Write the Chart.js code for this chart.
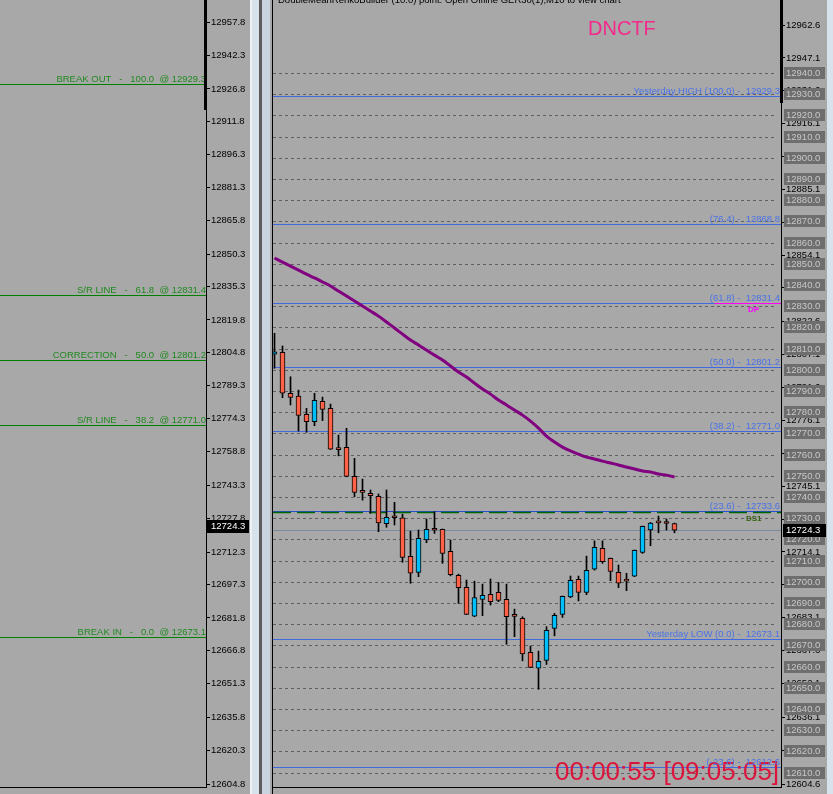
<!doctype html>
<html>
<head>
<meta charset="utf-8">
<title>GER30 M10 - DNCTF</title>
<script src="https://cdn.jsdelivr.net/npm/chart.js@4"></script>
<style>
  body { margin: 0; width: 833px; height: 794px; overflow: hidden; position: relative; background: #a8a8a8; }
  .strip { position: absolute; top: 0; height: 794px; }
  canvas { position: absolute; top: 0; }
</style>
</head>
<body>
<canvas id="leftChart" width="250" height="794" style="left:0"></canvas>
<div class="strip" style="left:250px;width:2px;background:#eef2f6"></div>
<div class="strip" style="left:252px;width:7px;background:#d8e2ec"></div>
<div class="strip" style="left:259px;width:3px;background:#5c5c5c"></div>
<div class="strip" style="left:262px;width:8px;background:#c8d3df"></div>
<div class="strip" style="left:272px;width:1px;background:#000"></div>
<canvas id="rightChart" width="554" height="794" style="left:273px"></canvas>
<div class="strip" style="left:827px;width:6px;background:#d8e2ec"></div>

<script>
// ---- candles (M10 renko-built bars), index 0 = leftmost, partly hidden bar
const opens  = [12807.3, 12808.2, 12788.9, 12787.6, 12779.0, 12775.5, 12785.1, 12781.8, 12762.5, 12763.4,
                12749.7, 12742.3, 12741.7, 12740.3, 12727.4, 12730.3, 12730.1, 12712.0, 12704.4, 12719.7,
                12725.2, 12724.7, 12714.3, 12703.0, 12697.4, 12683.8, 12691.7, 12694.1, 12695.0, 12691.7,
                12683.8, 12682.7, 12666.7, 12659.2, 12662.9, 12678.0, 12684.6, 12692.9, 12701.1, 12695.0,
                12705.9, 12715.8, 12711.0, 12704.4, 12700.4, 12702.7, 12713.9, 12724.5, 12727.9, 12727.6,
                12727.5];
const highs  = [12817.2, 12811.2, 12796.7, 12790.4, 12781.8, 12788.9, 12787.1, 12783.8, 12769.2, 12772.4,
                12758.2, 12748.4, 12743.3, 12741.4, 12743.3, 12737.5, 12731.9, 12723.9, 12724.4, 12729.6,
                12733.0, 12724.9, 12719.7, 12703.6, 12700.8, 12700.3, 12698.9, 12701.3, 12699.7, 12698.9,
                12687.1, 12683.5, 12669.7, 12667.3, 12678.8, 12685.1, 12693.3, 12702.7, 12702.7, 12712.1,
                12719.3, 12719.3, 12711.2, 12707.9, 12704.0, 12715.0, 12726.3, 12728.0, 12731.0, 12729.6,
                12727.7];
const lows   = [12800.7, 12786.8, 12783.4, 12771.1, 12770.5, 12773.6, 12776.0, 12762.4, 12759.4, 12749.5,
                12740.1, 12738.5, 12732.3, 12723.6, 12725.7, 12726.8, 12709.2, 12699.3, 12702.4, 12718.4,
                12722.8, 12708.7, 12702.8, 12689.8, 12684.5, 12683.5, 12684.0, 12689.0, 12690.6, 12670.5,
                12674.1, 12662.7, 12659.5, 12649.3, 12661.0, 12674.5, 12683.2, 12692.5, 12691.0, 12693.9,
                12705.5, 12708.7, 12700.5, 12697.2, 12695.8, 12702.4, 12713.4, 12717.0, 12723.1, 12724.4,
                12723.1];
const closes = [12808.5, 12788.9, 12787.0, 12778.5, 12775.5, 12785.6, 12781.3, 12762.6, 12762.3, 12749.7,
                12742.2, 12742.2, 12740.6, 12727.8, 12730.4, 12730.2, 12711.5, 12704.0, 12720.5, 12724.7,
                12724.3, 12713.4, 12703.3, 12697.2, 12684.6, 12692.6, 12693.6, 12690.6, 12691.2, 12683.5,
                12683.7, 12666.0, 12659.6, 12662.5, 12677.1, 12684.2, 12693.1, 12700.7, 12695.0, 12705.4,
                12716.2, 12709.5, 12704.9, 12699.3, 12700.3, 12714.8, 12726.1, 12727.7, 12727.8, 12727.5,
                12724.3];
// moving average (purple)
const maValues = [12852.7, 12850.8, 12848.9, 12847.0, 12845.1, 12843.3, 12841.4, 12839.5, 12837.1, 12834.8,
                  12832.4, 12830.1, 12827.7, 12825.3, 12822.5, 12819.7, 12816.8, 12814.0, 12811.7, 12809.3,
                  12806.9, 12804.6, 12801.8, 12798.9, 12796.6, 12793.7, 12790.9, 12788.5, 12785.7, 12783.4,
                  12781.0, 12778.6, 12775.8, 12772.5, 12768.7, 12765.9, 12763.5, 12761.7, 12760.2, 12758.8,
                  12757.9, 12756.9, 12756.0, 12755.1, 12754.1, 12753.2, 12752.2, 12751.8, 12750.8, 12750.3,
                  12749.4];

// ---- price scale labels
const rightTicks = [12962.6, 12947.1, 12931.6, 12916.1, 12900.6, 12885.1, 12869.6, 12854.1, 12838.6, 12822.6,
                    12807.1, 12791.6, 12776.1, 12760.6, 12745.1, 12729.6, 12714.1, 12698.6, 12683.1, 12667.6,
                    12652.1, 12636.1, 12620.6, 12604.6];
const leftTicks  = [12957.8, 12942.3, 12926.8, 12911.8, 12896.3, 12881.3, 12865.8, 12850.3, 12835.3, 12819.8,
                    12804.8, 12789.3, 12774.3, 12758.8, 12743.3, 12727.8, 12712.3, 12697.3, 12681.8, 12666.8,
                    12651.3, 12635.8, 12620.3, 12604.8];
const roundLevels = [12940, 12930, 12920, 12910, 12900, 12890, 12880, 12870, 12860, 12850, 12840, 12830,
                     12820, 12810, 12800, 12790, 12780, 12770, 12760, 12750, 12740, 12730, 12720, 12710,
                     12700, 12690, 12680, 12670, 12660, 12650, 12640, 12630, 12620, 12610];

// ---- levels
const fibLevels = [12929.3, 12868.8, 12831.4, 12801.2, 12771.0, 12733.6, 12673.1, 12612.6];
const fibLabels = ['Yesterday HIGH (100.0) -  12929.3', '(76.4) -  12868.8', '(61.8) -  12831.4',
                   '(50.0) -  12801.2', '(38.2) -  12771.0', '(23.6) -  12733.6',
                   'Yesterday LOW (0.0) -  12673.1', '(-23.6) -  12612.6'];
const breakLevels = [12929.3, 12831.4, 12801.2, 12771.0, 12673.1];
const breakLabels = ['BREAK OUT   -   100.0  @ 12929.3', 'S/R LINE   -   61.8  @ 12831.4',
                     'CORRECTION   -   50.0  @ 12801.2', 'S/R LINE   -   38.2  @ 12771.0',
                     'BREAK IN   -   0.0  @ 12673.1'];
const lastPrice = 12724.3;
const pivotDP = 12831.4, pivotFrom = 55;
const supportDS1 = 12733.6;

const FONT = '"Liberation Sans", Arial, sans-serif';

function crisp(v) { return Math.round(v) + 0.5; }

const rightDecor = {
  id: 'rightDecor',
  beforeDatasetsDraw(chart) {
    const { ctx, chartArea: a, scales: { x, y } } = chart;
    ctx.save();
    ctx.lineWidth = 1;
    // dotted price grid
    ctx.strokeStyle = '#606060';
    ctx.setLineDash([3, 3]);
    roundLevels.forEach(v => {
      const py = crisp(y.getPixelForValue(v));
      ctx.beginPath(); ctx.moveTo(a.left, py); ctx.lineTo(a.right - 4, py); ctx.stroke();
    });
    ctx.setLineDash([]);
    // fibo lines
    fibLevels.forEach((v, i) => {
      const py = crisp(y.getPixelForValue(v));
      ctx.strokeStyle = i === 5 ? '#2a4fd6' : '#4169e1';
      ctx.beginPath(); ctx.moveTo(a.left, py); ctx.lineTo(a.right, py); ctx.stroke();
    });
    // DS1
    let py = crisp(y.getPixelForValue(supportDS1)) + 1;
    ctx.strokeStyle = '#006400'; ctx.lineWidth = 1.5; ctx.setLineDash([18, 6]);
    ctx.beginPath(); ctx.moveTo(a.left, py); ctx.lineTo(a.right, py); ctx.stroke();
    ctx.setLineDash([]); ctx.lineWidth = 1;
    // DP
    py = crisp(y.getPixelForValue(pivotDP));
    ctx.strokeStyle = '#ff00ff';
    ctx.beginPath(); ctx.moveTo(x.getPixelForValue(pivotFrom), py); ctx.lineTo(a.right, py); ctx.stroke();
    // bid line
    py = crisp(y.getPixelForValue(lastPrice));
    ctx.strokeStyle = '#7b8b9e';
    ctx.beginPath(); ctx.moveTo(a.left, py); ctx.lineTo(a.right, py); ctx.stroke();
    ctx.restore();
  },
  afterDatasetsDraw(chart) {
    const { ctx, chartArea: a, scales: { y } } = chart;
    ctx.save();
    // timer first, so the lowest fibo label stays readable above it
    ctx.fillStyle = '#dc143c';
    ctx.font = '26px ' + FONT;
    ctx.fillText('00:00:55 [09:05:05]', 282, 780);
    ctx.font = '9.5px ' + FONT;
    ctx.fillStyle = '#4a72e8';
    ctx.textAlign = 'right';
    fibLevels.forEach((v, i) => {
      ctx.fillText(fibLabels[i], a.right - 1, Math.round(y.getPixelForValue(v)) - 2);
    });
    ctx.font = 'bold 8px ' + FONT;
    ctx.textAlign = 'left';
    ctx.fillStyle = '#ff00ff';
    ctx.fillText('DP', 475, Math.round(y.getPixelForValue(pivotDP)) + 9);
    ctx.fillStyle = '#355f0e';
    ctx.fillText('DS1', 473, Math.round(y.getPixelForValue(supportDS1)) + 10);
    // header and symbol
    ctx.fillStyle = '#000';
    ctx.font = '9.5px ' + FONT;
    ctx.fillText('DoubleMeanRenkoBuilder (10.0) point. Open Offline GER30(1),M10 to view chart', 5, 3);
    ctx.fillStyle = '#f5288c';
    ctx.font = '20px ' + FONT;
    ctx.fillText('DNCTF', 315, 35);
    ctx.restore();
  },
  afterDraw(chart) {
    const { ctx, chartArea: a, scales: { y } } = chart;
    ctx.save();
    ctx.font = '9.5px ' + FONT;
    ctx.textBaseline = 'middle';
    roundLevels.forEach(v => {
      const py = Math.round(y.getPixelForValue(v));
      ctx.fillStyle = '#6e6e6e';
      ctx.fillRect(a.right + 3, py - 6, 41, 12);
      ctx.fillStyle = '#c8c8c8';
      ctx.fillText(v.toFixed(1), a.right + 5, py + 0.5);
    });
    const pp = Math.round(y.getPixelForValue(lastPrice));
    ctx.fillStyle = '#000';
    ctx.fillRect(a.right + 2, pp - 6, 43, 13);
    ctx.fillStyle = '#fff';
    ctx.fillText(lastPrice.toFixed(1), a.right + 5, pp + 0.5);
    ctx.fillStyle = '#000';
    ctx.fillRect(a.right - 1, 0, 3, 103);
    ctx.fillRect(0, a.bottom, a.right, 1);
    ctx.restore();
  }
};

const leftDecor = {
  id: 'leftDecor',
  afterDatasetsDraw(chart) {
    const { ctx, chartArea: a, scales: { y } } = chart;
    ctx.save();
    ctx.font = '9.5px ' + FONT;
    ctx.textAlign = 'right';
    breakLevels.forEach((v, i) => {
      const py = crisp(y.getPixelForValue(v));
      ctx.strokeStyle = '#008000';
      ctx.beginPath(); ctx.moveTo(a.left, py); ctx.lineTo(a.right, py); ctx.stroke();
      ctx.fillStyle = '#1f8a1f';
      ctx.fillText(breakLabels[i], a.right, py - 2.5);
    });
    ctx.restore();
  },
  afterDraw(chart) {
    const { ctx, chartArea: a, scales: { y } } = chart;
    ctx.save();
    ctx.font = '9.5px ' + FONT;
    ctx.textBaseline = 'middle';
    const pp = Math.round(y.getPixelForValue(lastPrice));
    ctx.fillStyle = '#000';
    ctx.fillRect(a.right + 1, pp - 6, 42, 13);
    ctx.fillStyle = '#fff';
    ctx.fillText(lastPrice.toFixed(1), a.right + 5, pp + 0.5);
    ctx.fillStyle = '#000';
    ctx.fillRect(a.right - 2, 0, 3, 110);
    ctx.fillRect(0, a.bottom, a.right, 1);
    ctx.restore();
  }
};

function priceAxis(ticks, min, max, width) {
  return {
    position: 'right', min: min, max: max,
    afterBuildTicks: s => { s.ticks = ticks.map(v => ({ value: v })); },
    afterFit: s => { s.width = width; s.paddingTop = 0; s.paddingBottom = 0; },
    ticks: { color: '#000', padding: 1, font: { family: FONT, size: 9.5 }, callback: v => v.toFixed(1) },
    grid: { drawOnChartArea: false, tickLength: 4, color: '#000' },
    border: { color: '#000', width: 1 }
  };
}

Chart.defaults.animation = false;

new Chart(document.getElementById('rightChart'), {
  type: 'bar',
  data: {
    datasets: [
      {
        type: 'line', order: 1,
        data: maValues.map((v, i) => ({ x: i, y: v })),
        borderColor: '#800080', borderWidth: 3, pointRadius: 0, tension: 0.3
      },
      {
        order: 2, grouped: false,
        data: opens.map((o, i) => ({ x: i, y: [o, closes[i]] })),
        backgroundColor: opens.map((o, i) => closes[i] >= o ? '#00bfff' : '#ff6347'),
        borderColor: '#000', borderWidth: 1, borderSkipped: false,
        barThickness: 5, minBarLength: 2
      },
      {
        order: 3, grouped: false,
        data: lows.map((l, i) => ({ x: i, y: [l, highs[i]] })),
        backgroundColor: '#000', borderWidth: 0, barThickness: 1
      }
    ]
  },
  options: {
    responsive: false,
    layout: { padding: { top: 0, left: 0, right: 0, bottom: 7 } },
    plugins: { legend: { display: false }, tooltip: { enabled: false } },
    scales: {
      x: { type: 'linear', display: false, offset: false, min: -0.1875, max: 63.3125 },
      y: priceAxis(rightTicks, 12603.2, 12974.4, 46)
    }
  },
  plugins: [rightDecor]
});

new Chart(document.getElementById('leftChart'), {
  type: 'line',
  data: { datasets: [] },
  options: {
    responsive: false,
    layout: { padding: { top: 0, left: 0, right: 0, bottom: 7 } },
    plugins: { legend: { display: false }, tooltip: { enabled: false } },
    scales: {
      x: { type: 'linear', display: false, min: 0, max: 1 },
      y: priceAxis(leftTicks, 12603.5, 12968.0, 44)
    }
  },
  plugins: [leftDecor]
});
</script>
</body>
</html>
